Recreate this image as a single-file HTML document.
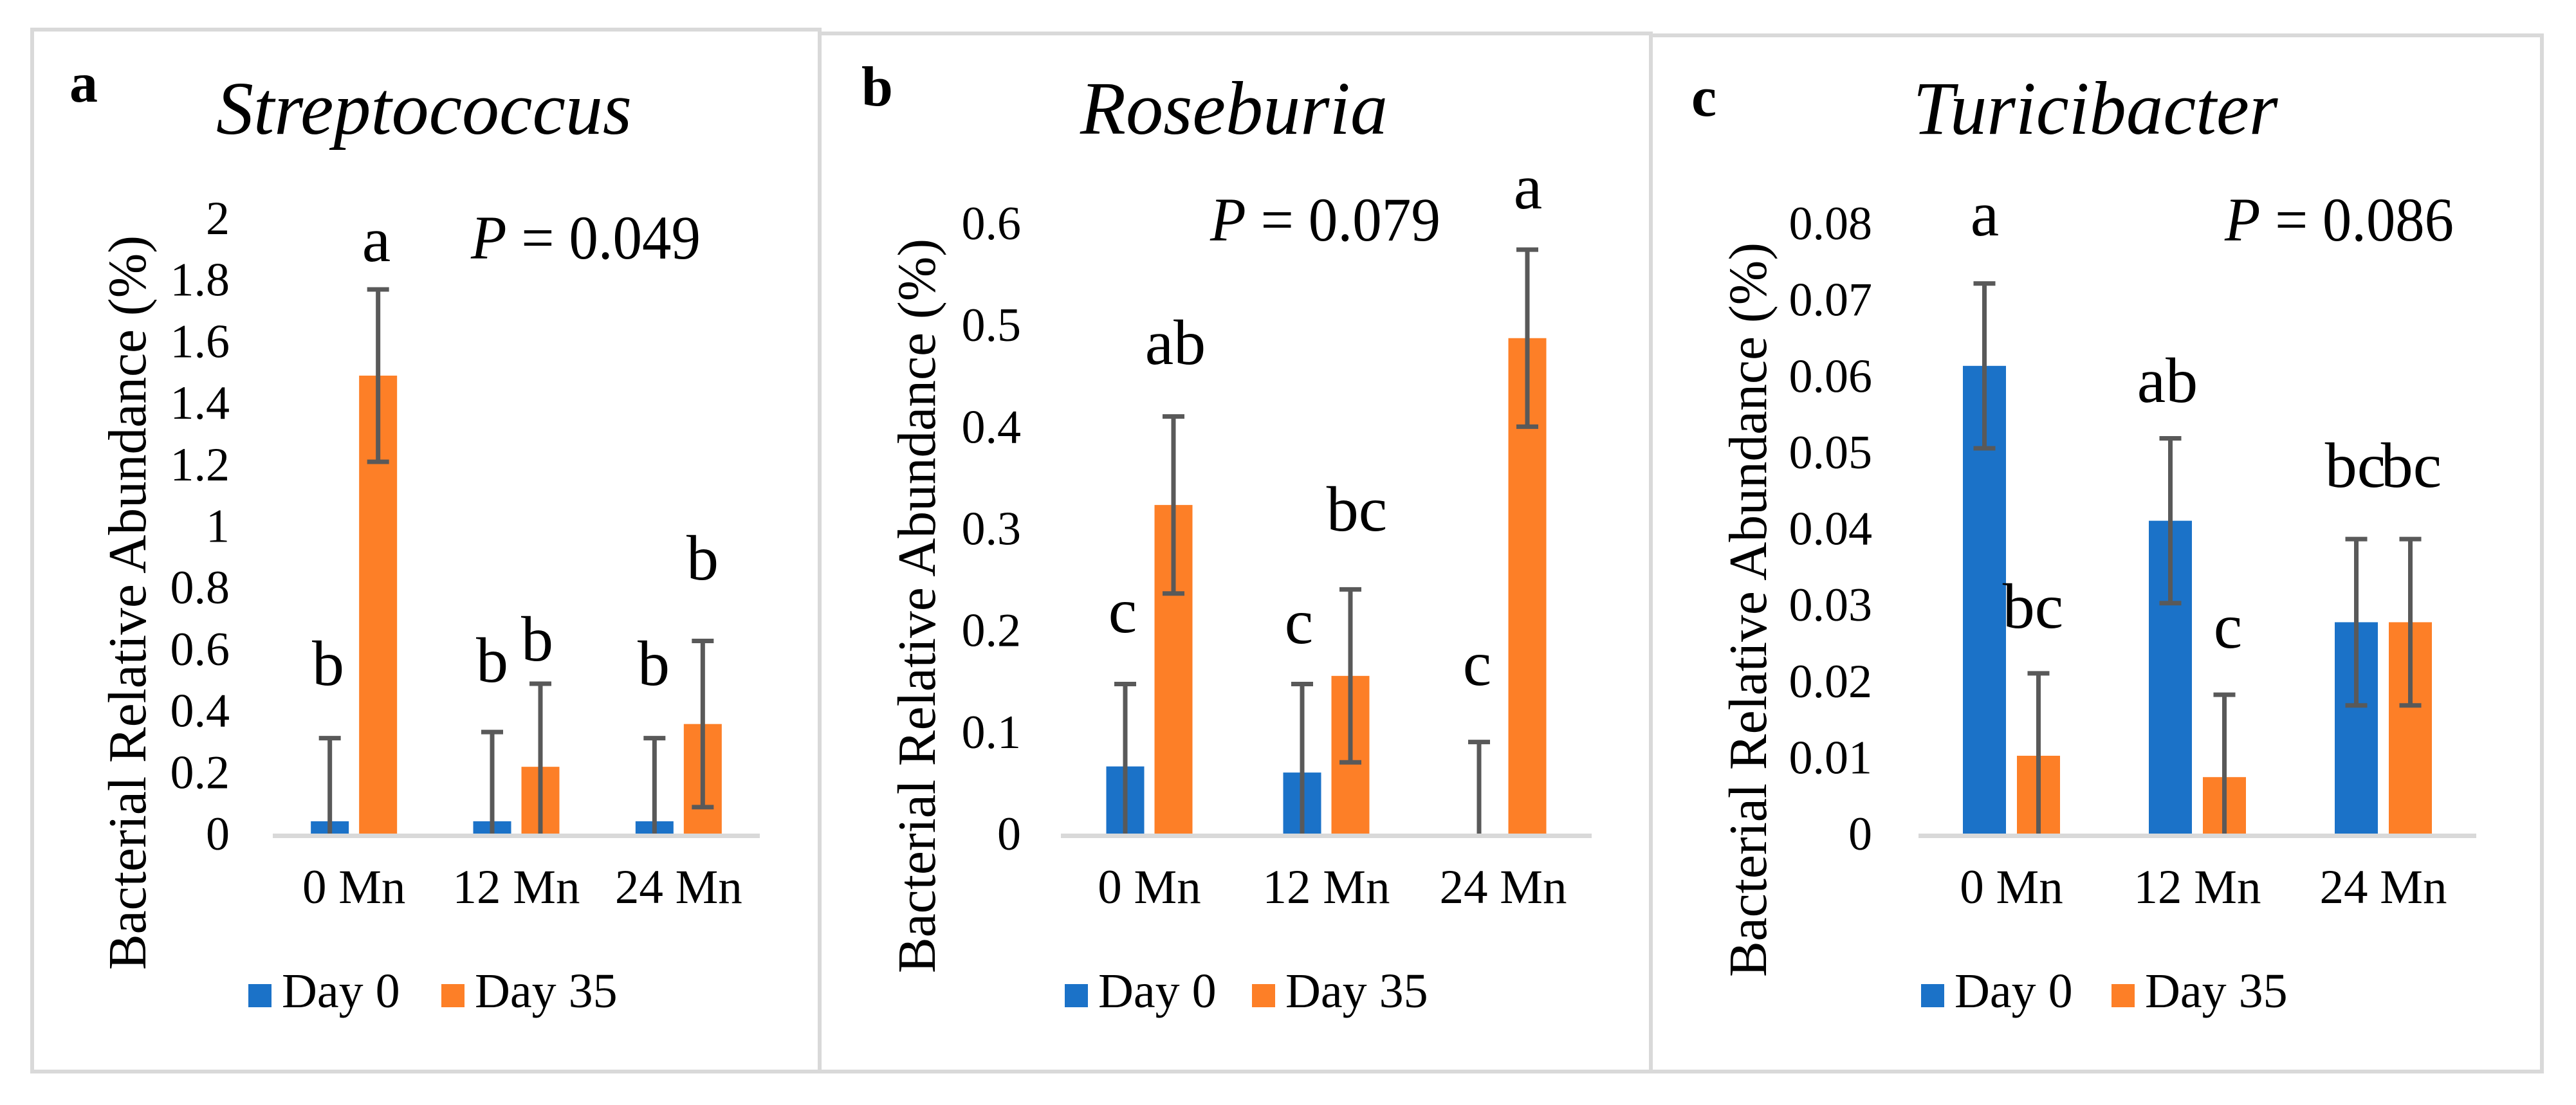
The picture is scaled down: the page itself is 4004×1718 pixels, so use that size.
<!DOCTYPE html>
<html><head><meta charset="utf-8">
<style>
html,body{margin:0;padding:0;background:#fff;}
svg, svg text{font-family:"Liberation Serif","Noto Serif CJK SC",serif;}
</style></head>
<body>
<svg id="fig" width="4004" height="1713" viewBox="0 0 4004 1713" xmlns="http://www.w3.org/2000/svg">
  <rect x="0" y="0" width="4004" height="1713" fill="#fff"/>
  <rect x="50" y="46" width="1224" height="1620" fill="none" stroke="#d9d9d9" stroke-width="6"/>
  <rect x="1274" y="52" width="1292" height="1614" fill="none" stroke="#d9d9d9" stroke-width="6"/>
  <rect x="2566" y="55" width="1385" height="1611" fill="none" stroke="#d9d9d9" stroke-width="6"/>
  <g id="panels"></g>
</svg>
<script>
const categories = ["0 Mn", "12 Mn", "24 Mn"];
const seriesNames = ["Day 0", "Day 35"];

const aDay0 = [0.04, 0.04, 0.04];
const aDay35 = [1.488, 0.217, 0.356];
const aErr0 = [0.27, 0.29, 0.27];
const aErr35 = [0.28, 0.27, 0.27];
const aTicks = ["0", "0.2", "0.4", "0.6", "0.8", "1", "1.2", "1.4", "1.6", "1.8", "2"];
const aLetters = ["b", "a", "b", "b", "b", "b"];

const bDay0 = [0.066, 0.060, -0.002];
const bDay35 = [0.323, 0.155, 0.487];
const bErr0 = [0.081, 0.087, 0.092];
const bErr35 = [0.087, 0.085, 0.087];
const bTicks = ["0", "0.1", "0.2", "0.3", "0.4", "0.5", "0.6"];
const bLetters = ["c", "ab", "c", "bc", "c", "a"];

const cDay0 = [0.0613, 0.041, 0.0277];
const cDay35 = [0.0102, 0.0074, 0.0277];
const cErr0 = [0.0108, 0.0108, 0.0109];
const cErr35 = [0.0108, 0.0108, 0.0109];
const cTicks = ["0", "0.01", "0.02", "0.03", "0.04", "0.05", "0.06", "0.07", "0.08"];
const cLetters = ["a", "bc", "ab", "c", "bc", "bc"];

const NS = "http://www.w3.org/2000/svg";
const root = document.getElementById("panels");
function mk(tag, attrs, parent) {
  const e = document.createElementNS(NS, tag);
  for (const k in attrs) e.setAttribute(k, attrs[k]);
  (parent || root).appendChild(e);
  return e;
}

const panels = [
  {id:"a", title:"Streptococcus", pval:"0.049", d0:aDay0, d35:aDay35, e0:aErr0, e35:aErr35, ticks:aTicks, letters:aLetters,
   ymax:2, top:339, x0:424, x1:1181, bw:59, off:37.5, tickRight:357, labX:108, labY:158, titleX:659, titleW:646,
   pX:732, pY:402, pW:357, ytX:198, yt0:366, yt1:1508, legX:386, legX2:686,
   letterPos:[[510,1065],[585,406],[765,1060],[835,1027],[1016,1065],[1092,901]]},
  {id:"b", title:"Roseburia", pval:"0.079", d0:bDay0, d35:bDay35, e0:bErr0, e35:bErr35, ticks:bTicks, letters:bLetters,
   ymax:0.6, top:347, x0:1649, x1:2474, bw:59, off:37.5, tickRight:1587, labX:1339, labY:164, titleX:1918, titleW:478,
   pX:1881, pY:374, pW:358, ytX:1425, yt0:371, yt1:1513, legX:1655, legX2:1946,
   letterPos:[[1745,983],[1827,566],[2019,1000],[2109,825],[2296,1065],[2375,324]]},
  {id:"c", title:"Turicibacter", pval:"0.086", d0:cDay0, d35:cDay35, e0:cErr0, e35:cErr35, ticks:cTicks, letters:cLetters,
   ymax:0.08, top:347, x0:2982, x1:3849, bw:67, off:42, tickRight:2910, labX:2629, labY:180, titleX:3257, titleW:567,
   pX:3458, pY:374, pW:356, ytX:2717, yt0:377, yt1:1519, legX:2986, legX2:3282,
   letterPos:[[3085,366],[3160,976],[3369,625],[3463,1007],[3661,757],[3748,757]]}
];

const BASE = 1296;
panels.forEach(function(p) {
  const g = mk("g", {});
  
  
  const y = v => BASE - (v / p.ymax) * (BASE - p.top);
  const catW = (p.x1 - p.x0) / categories.length;
  const cx = i => p.x0 + catW * (i + 0.5);

  const lab = mk("text", {x:p.labX, y:p.labY, "font-size":88, "font-weight":"bold"}, g);
  lab.textContent = p.id;
  
  

  const t = mk("text", {x:p.titleX, y:208, "font-size":118, "font-style":"italic", "text-anchor":"middle", textLength:p.titleW, lengthAdjust:"spacingAndGlyphs"}, g);
  t.textContent = p.title;
  
  

  p.ticks.forEach(function(tk, i) {
    const v = p.ymax * i / (p.ticks.length - 1);
    const tt = mk("text", {x:p.tickRight, y:y(v) + 25, "font-size":74, "text-anchor":"end"}, g);
    tt.textContent = tk;
    
    
  });

  const yt = mk("text", {x:0, y:0, "font-size":84, "text-anchor":"middle", textLength:(p.yt1 - p.yt0), lengthAdjust:"spacingAndGlyphs",
    transform:"translate(" + (p.ytX + 28) + "," + ((p.yt0 + p.yt1) / 2) + ") rotate(-90)"}, g);
  yt.textContent = "Bacterial Relative Abundance (%)";
  
  

  const series = [[p.d0, p.e0, "#1b72c8", -p.off], [p.d35, p.e35, "#fd7f27", p.off]];
  series.forEach(function(s, si) {
    s[0].forEach(function(v, i) {
      const bx = cx(i) + s[3];
      const top = Math.min(y(v), BASE), bot = Math.max(y(v), BASE);
      const r = mk("rect", {x:bx - p.bw / 2, y:top, width:p.bw, height:Math.max(bot - top, 1), fill:s[2]}, g);
      
      
    });
  });

  const ax = mk("rect", {x:p.x0, y:BASE, width:p.x1 - p.x0, height:7, fill:"#d9d9d9"}, g);
  
  

  series.forEach(function(s, si) {
    s[0].forEach(function(v, i) {
      const bx = cx(i) + s[3];
      const hi = v + s[1][i], lo = Math.max(0, v - s[1][i]);
      const eg = mk("g", {stroke:"#595959", "stroke-width":7}, g);
      
      
      mk("line", {x1:bx, x2:bx, y1:y(hi), y2:y(lo)}, eg);
      mk("line", {x1:bx - 17, x2:bx + 17, y1:y(hi), y2:y(hi)}, eg);
      if (lo > 0) mk("line", {x1:bx - 17, x2:bx + 17, y1:y(lo), y2:y(lo)}, eg);
    });
  });

  categories.forEach(function(c, i) {
    const ct = mk("text", {x:cx(i), y:1404, "font-size":75, "text-anchor":"middle"}, g);
    ct.textContent = c;
    
    
  });

  p.letters.forEach(function(L, i) {
    const lt = mk("text", {x:p.letterPos[i][0], y:p.letterPos[i][1], "font-size":100, "text-anchor":"middle"}, g);
    lt.textContent = L;
    
    
  });

  const pt = mk("text", {x:p.pX, y:p.pY, "font-size":96, textLength:p.pW, lengthAdjust:"spacingAndGlyphs"}, g);
  pt.innerHTML = '<tspan font-style="italic">P</tspan> = ' + p.pval;
  
  

  [[p.legX, "#1b72c8", seriesNames[0]], [p.legX2, "#fd7f27", seriesNames[1]]].forEach(function(L, li) {
    const lg = mk("g", {}, g);
    
    
    mk("rect", {x:L[0], y:1530, width:36, height:36, fill:L[1]}, lg);
    const lt = mk("text", {x:L[0] + 52, y:1566, "font-size":76}, lg);
    lt.textContent = L[2];
  });
});
</script>
</body></html>
